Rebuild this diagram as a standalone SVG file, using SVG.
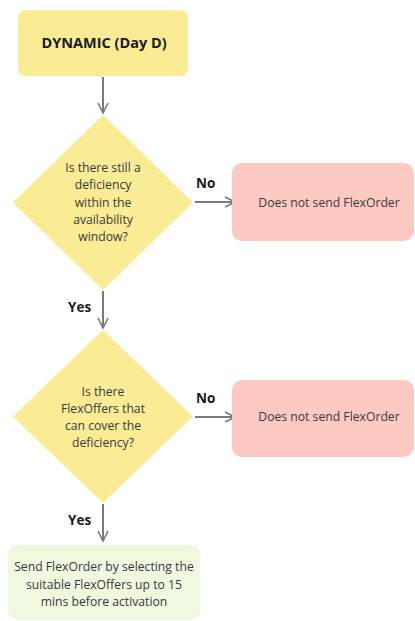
<svg xmlns="http://www.w3.org/2000/svg" width="415" height="621" viewBox="0 0 415 621">
<defs>
<style>
.t{font-family:"Open Sans","Liberation Sans",sans-serif;font-size:12.2px;fill:#3a3a3a;text-anchor:middle}
.b{font-family:"Open Sans","Liberation Sans",sans-serif;font-size:13.5px;font-weight:bold;fill:#1a1a1a}
.y{fill:#f9ec94}
.r{fill:#fcc9c3}
.g{fill:#eff9e0}
.c{stroke:#7a7a7a;stroke-width:2;fill:none}
</style>
<marker id="ah" viewBox="0 0 12 12" refX="11" refY="6" markerWidth="12" markerHeight="12" markerUnits="userSpaceOnUse" orient="auto">
<path d="M1,1 L11,6 L1,11" fill="none" stroke="#7a7a7a" stroke-width="1.6"/>
</marker>
</defs>
<rect width="415" height="621" fill="#ffffff"/>
<g id="connectors">
<line class="c" x1="103" y1="77" x2="103" y2="113" marker-end="url(#ah)"/>
<line class="c" x1="195" y1="202" x2="235" y2="202" marker-end="url(#ah)"/>
<line class="c" x1="103" y1="291" x2="103" y2="328" marker-end="url(#ah)"/>
<line class="c" x1="195" y1="417" x2="235" y2="417" marker-end="url(#ah)"/>
<line class="c" x1="103" y1="504" x2="103" y2="541" marker-end="url(#ah)"/>
<text class="b" x="196" y="188">No</text>
<text class="b" x="196" y="403">No</text>
<text class="b" x="68" y="312">Yes</text>
<text class="b" x="68" y="525">Yes</text>
</g>
<g id="start">
<rect class="y" x="18" y="10" width="170" height="66" rx="8"/>
<text class="b" x="104" y="48" text-anchor="middle" style="font-size:14.5px">DYNAMIC (Day D)</text>
</g>
<g id="decision1">
<polygon class="y" points="103,115 193,202.5 103,290 13,202.5"/>
<text class="t" x="103" y="172">Is there still a</text>
<text class="t" x="103" y="189">deficiency</text>
<text class="t" x="103" y="207">within the</text>
<text class="t" x="103" y="224">availability</text>
<text class="t" x="103" y="241">window?</text>
</g>
<g id="no1">
<rect class="r" x="232" y="163" width="182" height="78" rx="10"/>
<text class="t" x="329" y="207">Does not send FlexOrder</text>
</g>
<g id="decision2">
<polygon class="y" points="103,330 193,416.5 103,503 13,416.5"/>
<text class="t" x="103" y="396">Is there</text>
<text class="t" x="103" y="413">FlexOffers that</text>
<text class="t" x="103" y="430">can cover the</text>
<text class="t" x="103" y="447">deficiency?</text>
</g>
<g id="no2">
<rect class="r" x="232" y="380" width="182" height="77" rx="10"/>
<text class="t" x="329" y="421">Does not send FlexOrder</text>
</g>
<g id="send">
<rect class="g" x="8" y="545" width="192" height="75" rx="10"/>
<text class="t" x="104" y="571">Send FlexOrder by selecting the</text>
<text class="t" x="104" y="589">suitable FlexOffers up to 15</text>
<text class="t" x="104" y="606">mins before activation</text>
</g>
</svg>
